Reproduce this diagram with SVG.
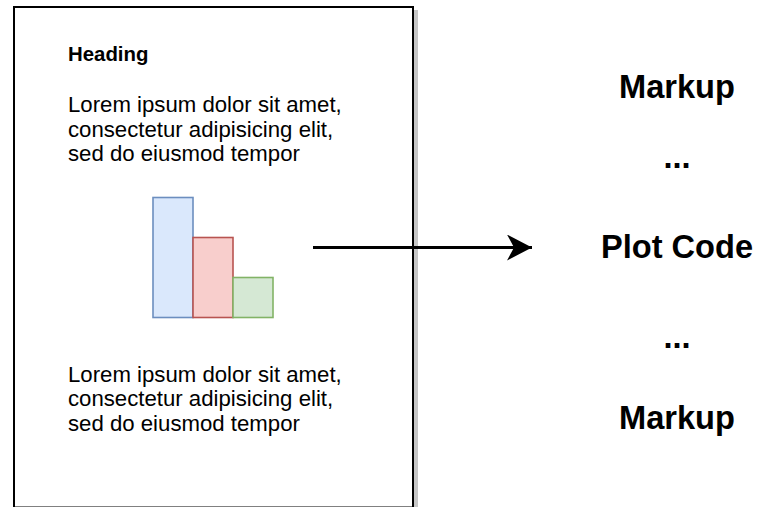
<svg xmlns="http://www.w3.org/2000/svg" width="761" height="507" viewBox="0 0 761 507">
  <defs>
    <style>
      .txt { font-family: "Liberation Sans", Arial, sans-serif; fill: #000; }
      .body { font-size: 22.2px; }
      .head { font-size: 20.4px; font-weight: bold; }
      .big { font-size: 32.6px; font-weight: bold; text-anchor: middle; }
      .bar { stroke-width: 1.6; }
    </style>
    <marker id="arrow" markerWidth="26" markerHeight="26" viewBox="0 0 26 26" refX="25" refY="13" orient="auto" markerUnits="userSpaceOnUse">
      <path d="M0,0 L25,13 L0,26 L7,13 Z" fill="#000"/>
    </marker>
  </defs>
  <rect width="761" height="507" fill="#fff"/>

  <g id="page">
    <rect x="18" y="11" width="399" height="500.5" fill="#000" stroke="#000" stroke-width="2" opacity="0.22"/>
    <rect x="14" y="7" width="399" height="500.5" fill="#fff" stroke="#000" stroke-width="2"/>
    <text class="txt head" x="68" y="61">Heading</text>
    <text class="txt body" x="68" y="112">Lorem ipsum dolor sit amet,</text>
    <text class="txt body" x="68" y="136.5">consectetur adipisicing elit,</text>
    <text class="txt body" x="68" y="161">sed do eiusmod tempor</text>
    <text class="txt body" x="68" y="381.5">Lorem ipsum dolor sit amet,</text>
    <text class="txt body" x="68" y="406">consectetur adipisicing elit,</text>
    <text class="txt body" x="68" y="430.5">sed do eiusmod tempor</text>
  </g>

  <g id="chart">
    <rect class="bar" x="153" y="197.5" width="40" height="120" fill="#dae8fc" stroke="#6c8ebf"/>
    <rect class="bar" x="193" y="237.5" width="40" height="80" fill="#f8cecc" stroke="#b85450"/>
    <rect class="bar" x="233" y="277.5" width="40" height="40" fill="#d5e8d4" stroke="#82b366"/>
  </g>

  <g id="connectors">
    <line x1="313" y1="247.5" x2="532" y2="247.5" stroke="#000" stroke-width="3.2" marker-end="url(#arrow)"/>
  </g>

  <g id="code">
    <text class="txt big" x="677" y="98">Markup</text>
    <text class="txt big" x="677" y="168">...</text>
    <text class="txt big" x="677" y="258">Plot Code</text>
    <text class="txt big" x="677" y="348">...</text>
    <text class="txt big" x="677" y="429">Markup</text>
  </g>
</svg>
